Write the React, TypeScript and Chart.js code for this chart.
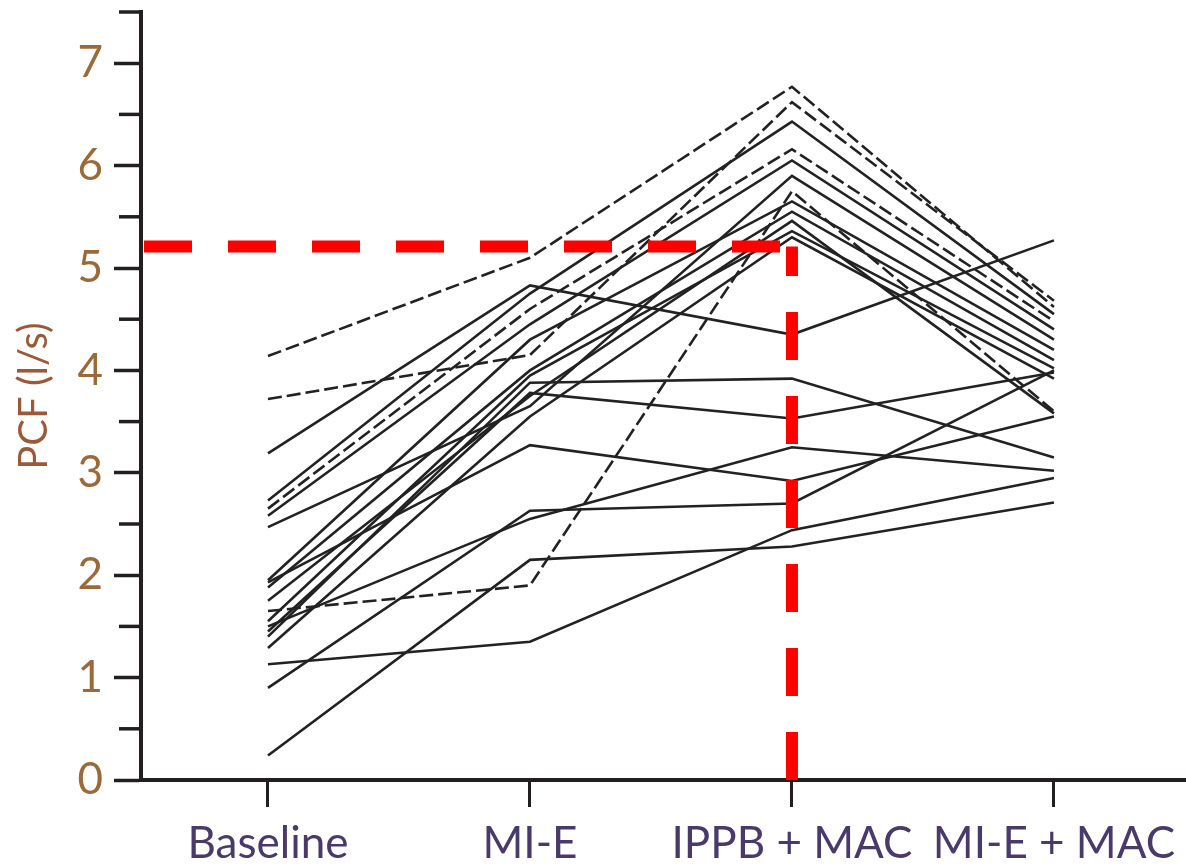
import React, { useEffect, useRef } from "react";
import { Chart, registerables } from "chart.js";

Chart.register(...registerables);

// Categories (x axis)
const categories = ["Baseline", "MI-E", "IPPB + MAC", "MI-E + MAC"];

// Individual patient series: [Baseline, MI-E, IPPB + MAC, MI-E + MAC] (PCF, l/s)
const p01 = [4.14, 5.1, 6.77, 4.62];
const p02 = [3.72, 4.15, 6.62, 4.68];
const p03 = [3.19, 4.83, 4.35, 5.27];
const p04 = [2.73, 4.75, 6.43, 4.55];
const p05 = [2.65, 4.6, 6.16, 4.48];
const p06 = [2.58, 4.45, 6.05, 4.4];
const p07 = [2.47, 3.65, 5.9, 4.3];
const p08 = [1.95, 4.3, 5.65, 4.2];
const p09 = [1.88, 4.0, 5.55, 4.1];
const p10 = [1.65, 1.9, 5.75, 3.6];
const p11 = [1.75, 3.75, 5.46, 3.58];
const p12 = [1.55, 3.95, 5.36, 4.02];
const p13 = [1.29, 3.55, 5.3, 3.92];
const p14 = [1.93, 3.27, 2.92, 3.55];
const p15 = [0.9, 2.63, 2.7, 4.0];
const p16 = [1.13, 1.35, 2.44, 2.95];
const p17 = [0.24, 2.15, 2.28, 2.71];
const p18 = [1.4, 3.88, 3.92, 3.15];
const p19 = [1.45, 3.78, 3.53, 3.98];
const p20 = [1.5, 2.55, 3.25, 3.02];

const patients = [p01, p02, p03, p04, p05, p06, p07, p08, p09, p10, p11, p12, p13, p14, p15, p16, p17, p18, p19, p20];

// Red threshold reference (value and category index)
const thresholdValue = 5.21;
const thresholdCategory = 2;

// Y axis range
const yMin = 0;
const yMax = 7.5;
const yStep = 0.5;

// X axis range (category index units)
const xMin = -0.4847;
const xMax = 3.504;

// Style-only: series drawn with a dashed stroke
const dashedSeries = new Set([0, 1, 4, 9]);

const axisColor = "#231f20";

const isWhole = (v: number) => Math.abs(v - Math.round(v)) < 1e-9;

const minorTickPlugin = {
  id: "minorTicks",
  afterDraw(chart: any) {
    const y = chart.scales.y;
    const ctx = chart.ctx;
    const left = chart.chartArea.left;
    ctx.save();
    ctx.strokeStyle = axisColor;
    ctx.lineWidth = 3.5;
    for (let v = yMin; v <= yMax + 1e-9; v += yStep) {
      if (isWhole(v)) continue;
      const py = y.getPixelForValue(v);
      ctx.beginPath();
      ctx.moveTo(left - 22, py);
      ctx.lineTo(left, py);
      ctx.stroke();
    }
    ctx.restore();
  },
};

export default function App() {
  const ref = useRef<HTMLCanvasElement>(null);

  useEffect(() => {
    document.body.style.margin = "0";
    const canvas = ref.current;
    if (!canvas) return;

    const lineSets = patients.map((vals, i) => ({
      label: `P${i + 1}`,
      data: vals.map((v, j) => ({ x: j, y: v })),
      borderColor: "#222222",
      borderWidth: 2.6,
      borderDash: dashedSeries.has(i) ? [14, 5] : [],
      pointRadius: 0,
      tension: 0,
      fill: false,
      order: 1,
    }));

    const hLine = {
      label: "threshold-h",
      data: [
        { x: xMin, y: thresholdValue },
        { x: thresholdCategory, y: thresholdValue },
      ],
      borderColor: "#ff0000",
      borderWidth: 12,
      borderDash: [48, 36],
      borderDashOffset: -3,
      borderCapStyle: "butt",
      pointRadius: 0,
      fill: false,
      order: 0,
    };
    const vLine = {
      label: "threshold-v",
      data: [
        { x: thresholdCategory, y: yMin },
        { x: thresholdCategory, y: thresholdValue },
      ],
      borderColor: "#ff0000",
      borderWidth: 12,
      borderDash: [48, 36],
      borderCapStyle: "butt",
      pointRadius: 0,
      fill: false,
      order: 0,
    };

    const chart = new Chart(canvas, {
      type: "line",
      data: { datasets: [...lineSets, hLine, vLine] as any },
      options: {
        animation: false,
        responsive: false,
        layout: { padding: { top: 12, left: 0, right: 0, bottom: 0 } },
        plugins: { legend: { display: false }, tooltip: { enabled: false } },
        scales: {
          x: {
            type: "linear",
            min: xMin,
            max: xMax,
            afterBuildTicks: (s: any) => {
              s.ticks = categories.map((_, i) => ({ value: i }));
            },
            afterFit: (s: any) => {
              s.height = 85;
              s.paddingLeft = 0;
              s.paddingRight = 0;
            },
            ticks: {
              autoSkip: false,
              maxRotation: 0,
              padding: 10,
              color: "#4a3a6a",
              font: { family: "Lato", size: 44 },
              callback: (v: any) => categories[v] ?? "",
            },
            grid: {
              display: true,
              drawOnChartArea: false,
              drawTicks: true,
              tickLength: 27,
              tickWidth: 3,
              tickColor: axisColor,
            },
            border: { display: true, color: axisColor, width: 4 },
          },
          y: {
            type: "linear",
            min: yMin,
            max: yMax,
            afterFit: (s: any) => {
              s.width = 141;
              s.paddingTop = 0;
              s.paddingBottom = 0;
            },
            ticks: {
              stepSize: yStep,
              autoSkip: false,
              padding: 11,
              color: "#9a6a3a",
              font: { family: "Lato", size: 44 },
              callback: (v: any) => (isWhole(v) ? String(Math.round(v)) : null),
            },
            grid: {
              display: true,
              drawOnChartArea: false,
              drawTicks: true,
              tickLength: 27,
              tickWidth: 3.5,
              tickColor: axisColor,
            },
            border: { display: true, color: axisColor, width: 4 },
            title: {
              display: true,
              text: "PCF (l/s)",
              color: "#9a5a3a",
              font: { family: "Lato", size: 40 },
              padding: { top: 10, bottom: 0 },
            },
          },
        },
      },
      plugins: [minorTickPlugin],
    });

    return () => chart.destroy();
  }, []);

  return (
    <div style={{ width: 1186, height: 865 }}>
      <canvas ref={ref} width={1186} height={865} style={{ display: "block" }} />
    </div>
  );
}
